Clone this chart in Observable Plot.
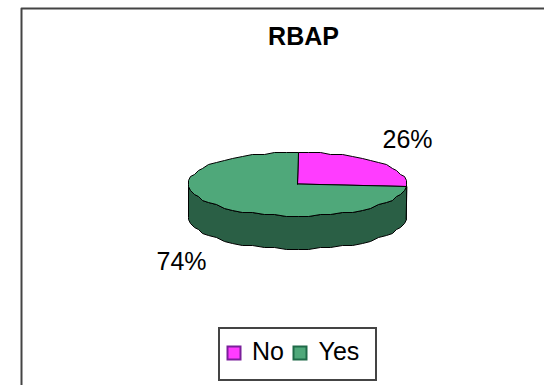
<!DOCTYPE html>
<html>
<head>
<meta charset="utf-8">
<style>
  html, body { margin: 0; padding: 0; background: #fff; overflow: hidden; }
  svg { display: block; }
</style>
<script src="https://cdn.jsdelivr.net/npm/d3@7"></script>
<script src="https://cdn.jsdelivr.net/npm/@observablehq/plot@0.6"></script>
</head>
<body>
<div id="chart"></div>
<script>
// RBAP survey answers
const title = "RBAP";
const answers = ["No", "Yes"];
const shares = [26, 74];
const topColors = ["#ff3cff", "#4fa87a"];
const sideColors = ["#8a1f8a", "#2a5f45"];

// Tilted disc geometry, in page units
const cx = 297, cy = 183.5, rx = 109, ry = 32, depth = 33;
const facet = 6; // degrees between outline vertices
const grid = 2;  // the rim is snapped to this grid, giving its slightly stepped outline

const snap = (v) => Math.round(v / grid) * grid;
const rim = (deg, drop = 0) => {
  const a = deg * Math.PI / 180;
  return {x: snap(cx + rx * Math.sin(a)), y: snap(cy - ry * Math.cos(a)) + drop};
};

// Outline angles between two bearings, keeping both ends
const sweep = (from, to) => {
  const out = [from];
  for (let d = Math.ceil(from / facet + 1e-6) * facet; d < to; d += facet) out.push(d);
  out.push(to);
  return out;
};

// Bearings of each slice, clockwise from twelve o'clock
let running = 0;
const slices = answers.map((answer, i) => {
  const start = running * 3.6;
  running += shares[i];
  return {answer, start, end: running * 3.6, top: topColors[i], side: sideColors[i]};
});

const wedge = (s) => [{x: cx, y: cy}, ...sweep(s.start, s.end).map((d) => rim(d)), {x: cx, y: cy}];

// Only the near half of the rim shows a wall
const wall = (s) => {
  const from = Math.max(s.start, 90), to = Math.min(s.end, 270);
  if (from >= to) return [];
  const arc = sweep(from, to);
  return [...arc.map((d) => rim(d)), ...arc.slice().reverse().map((d) => rim(d, depth))];
};

const lineOpts = (fill, stroke = "#000") => ({x: "x", y: "y", fill, stroke, strokeWidth: 1, curve: "linear-closed"});

const legendRow = answers.map((answer, i) => ({
  answer,
  swatch: [234, 300][i],
  label: [251.5, 318][i],
  color: topColors[i],
  edge: ["#7a1f9a", "#1f6a48"][i]
}));

const labelSpots = [
  {text: shares[0] + "%", x: 407, y: 139},
  {text: shares[1] + "%", x: 181, y: 261}
];

const font = "Liberation Sans, Arial, sans-serif";

const chart = Plot.plot({
  width: 544,
  height: 385,
  margin: 0,
  x: {domain: [0, 544], range: [0, 544], axis: null},
  y: {domain: [0, 385], range: [0, 385], axis: null},
  marks: [
    // Frame running off the page at right and bottom
    Plot.line([{x: 21, y: 385}, {x: 21, y: 8}, {x: 544, y: 8}], {x: "x", y: "y", stroke: "#444", strokeWidth: 2}),
    Plot.text([title], {x: () => 303, y: () => 36.5, text: (d) => d, fontFamily: font, fontWeight: "bold", fontSize: 25, fill: "#000"}),

    ...slices.flatMap((s) => {
      const w = wall(s);
      return w.length ? [Plot.line(w, lineOpts(s.side))] : [];
    }),
    ...slices.map((s) => Plot.line(wedge(s), lineOpts(s.top))),

    Plot.text(labelSpots, {x: "x", y: "y", text: "text", fontFamily: font, fontSize: 25, fill: "#000"}),

    // Legend
    Plot.rect([{x1: 219, x2: 376, y1: 328, y2: 380}], {x1: "x1", x2: "x2", y1: "y1", y2: "y2", fill: "#fff", stroke: "#444", strokeWidth: 2}),
    Plot.rect(legendRow, {x1: (d) => d.swatch - 6.5, x2: (d) => d.swatch + 6.5, y1: 346.5, y2: 359.5, fill: "color", stroke: "edge", strokeWidth: 2}),
    Plot.text(legendRow, {x: "label", y: 351.5, text: "answer", textAnchor: "start", fontFamily: font, fontSize: 25, fill: "#000"})
  ]
});

document.getElementById("chart").append(chart);
</script>
</body>
</html>
